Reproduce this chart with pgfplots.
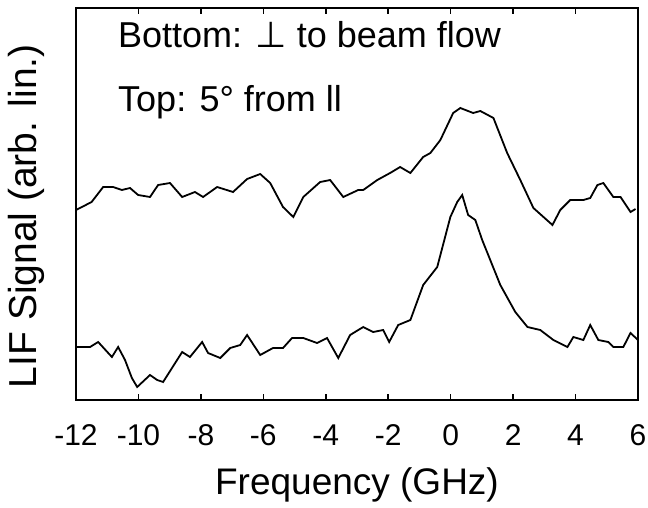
\documentclass[border=0pt]{standalone}
\usepackage{fontspec}
\setmainfont{Liberation Sans}
\newfontfamily\dejavu{DejaVu Sans}
\usepackage{pgfplots}
\pgfplotsset{compat=1.18}

% signal traces, y in arbitrary units
\pgfplotstableread{
f y
-12.00 190
-11.50 198
-11.13 213
-10.81 213
-10.53 210
-10.27 212
-10.01 205
-9.63 203
-9.37 215
-8.99 217
-8.60 203
-8.19 208
-7.93 203
-7.48 213
-6.97 208
-6.52 221
-6.10 226
-5.78 217
-5.37 193
-5.04 183
-4.72 203
-4.18 218
-3.86 220
-3.44 203
-2.96 210
-2.80 210
-2.35 220
-1.94 227
-1.62 233
-1.29 227
-0.88 243
-0.65 247
-0.33 260
0.08 287
0.31 292
0.72 287
0.95 289
1.37 282
1.81 247
2.23 220
2.65 192
3.26 175
3.51 190
3.83 200
4.25 200
4.47 202
4.70 215
4.89 217
5.21 203
5.44 203
5.76 188
5.92 191
}\toptrace

\pgfplotstableread{
f y
-12.00 53
-11.55 53
-11.29 58
-10.85 43
-10.65 53
-10.43 40
-10.21 22
-10.04 13
-9.63 25
-9.40 20
-9.21 18
-8.60 48
-8.35 43
-7.96 58
-7.77 47
-7.38 42
-7.06 52
-6.74 55
-6.52 65
-6.10 45
-5.69 52
-5.37 52
-5.08 62
-4.72 62
-4.28 57
-3.96 62
-3.60 42
-3.22 65
-2.96 70
-2.80 73
-2.48 68
-2.16 70
-1.97 58
-1.68 75
-1.29 80
-0.88 115
-0.43 133
-0.01 183
0.21 198
0.37 205
0.56 185
0.79 180
1.01 160
1.59 115
2.07 88
2.46 73
2.87 70
3.29 60
3.74 53
3.93 63
4.25 60
4.47 75
4.73 60
5.05 58
5.21 53
5.53 53
5.76 67
6.00 60
}\bottomtrace

\begin{document}
\begin{tikzpicture}
\useasboundingbox (-76pt,-107pt) rectangle (572pt,400pt);
\begin{axis}[
  at={(0,0)}, anchor=south west,
  scale only axis,
  width=562pt, height=392pt,
  xmin=-12, xmax=6,
  ymin=0, ymax=392,
  xtick={-12,-10,-8,-6,-4,-2,0,2,4,6},
  xticklabels={-12,-10,-8,-6,-4,-2,0,2,4,6},
  ytick=\empty,
  tick align=inside,
  xtick pos=both,
  major tick length=6pt,
  every tick/.style={black, line width=1.5pt},
  axis line style={line width=1.8pt},
  xticklabel style={anchor=base, yshift=-45pt, font=\fontsize{30}{34}\selectfont},
  xlabel={Frequency (GHz)},
  xlabel style={at={(axis description cs:0.5,-0.240)}, anchor=base, font=\fontsize{37}{40}\selectfont},
  ylabel={LIF Signal (arb. lin.)},
  ylabel style={at={(axis description cs:-0.0694,0.469)}, anchor=base, font=\fontsize{39}{42}\selectfont},
]
\addplot[black, line width=1.8pt] table[x=f, y=y] {\toptrace};
\addplot[black, line width=1.8pt] table[x=f, y=y] {\bottomtrace};
\node[anchor=base west, inner sep=0pt, font=\fontsize{36}{40}\selectfont]
  at (axis description cs:0.0747,0.9005) {Bottom: {\dejavu ⊥} to beam flow};
\node[anchor=base west, inner sep=0pt, font=\fontsize{36}{40}\selectfont]
  at (axis description cs:0.0747,0.735) {Top: 5° from ll};
\end{axis}
\end{tikzpicture}
\end{document}
